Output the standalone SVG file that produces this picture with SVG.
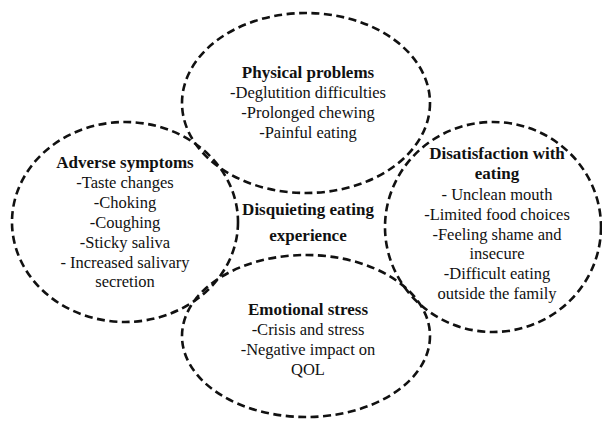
<svg xmlns="http://www.w3.org/2000/svg" width="602" height="421" viewBox="0 0 602 421">
<style>
.ring{fill:none;stroke:#111;stroke-width:2.6;stroke-dasharray:8 4.5}
text{font-family:"Liberation Serif","Times New Roman",serif;font-size:16.5px;fill:#111;text-anchor:middle}
.h{font-weight:bold;font-size:17px}
</style>
<rect width="602" height="421" fill="#fff"/>
<g id="connectors"/>
<g id="physical">
<ellipse class="ring" cx="306" cy="103" rx="124" ry="90"/>
<text x="308" y="78" class="h">Physical problems</text>
<text x="308" y="98">-Deglutition  difficulties</text>
<text x="308" y="118">-Prolonged chewing</text>
<text x="308" y="138">-Painful  eating</text>
</g>
<g id="adverse">
<ellipse class="ring" cx="125" cy="222" rx="113" ry="100"/>
<text x="125" y="168" class="h">Adverse symptoms</text>
<text x="125" y="188">-Taste changes</text>
<text x="125" y="208">-Choking</text>
<text x="125" y="228">-Coughing</text>
<text x="125" y="248">-Sticky  saliva</text>
<text x="125" y="268">- Increased salivary</text>
<text x="125" y="287">secretion</text>
</g>
<g id="dissatisfaction">
<ellipse class="ring" cx="493" cy="227" rx="108" ry="105"/>
<text x="497" y="159" class="h">Disatisfaction with</text>
<text x="497" y="179" class="h">eating</text>
<text x="497" y="200">- Unclean mouth</text>
<text x="497" y="220">-Limited  food choices</text>
<text x="497" y="240">-Feeling  shame and</text>
<text x="497" y="259">insecure</text>
<text x="497" y="279">-Difficult  eating</text>
<text x="497" y="299">outside the family</text>
</g>
<g id="emotional">
<ellipse class="ring" cx="306" cy="336" rx="124" ry="81"/>
<text x="308" y="315" class="h">Emotional stress</text>
<text x="308" y="335">-Crisis and stress</text>
<text x="308" y="355">-Negative impact on</text>
<text x="308" y="375">QOL</text>
</g>
<g id="center">
<text x="308" y="215" class="h">Disquieting eating</text>
<text x="308" y="241" class="h">experience</text>
</g>
</svg>
